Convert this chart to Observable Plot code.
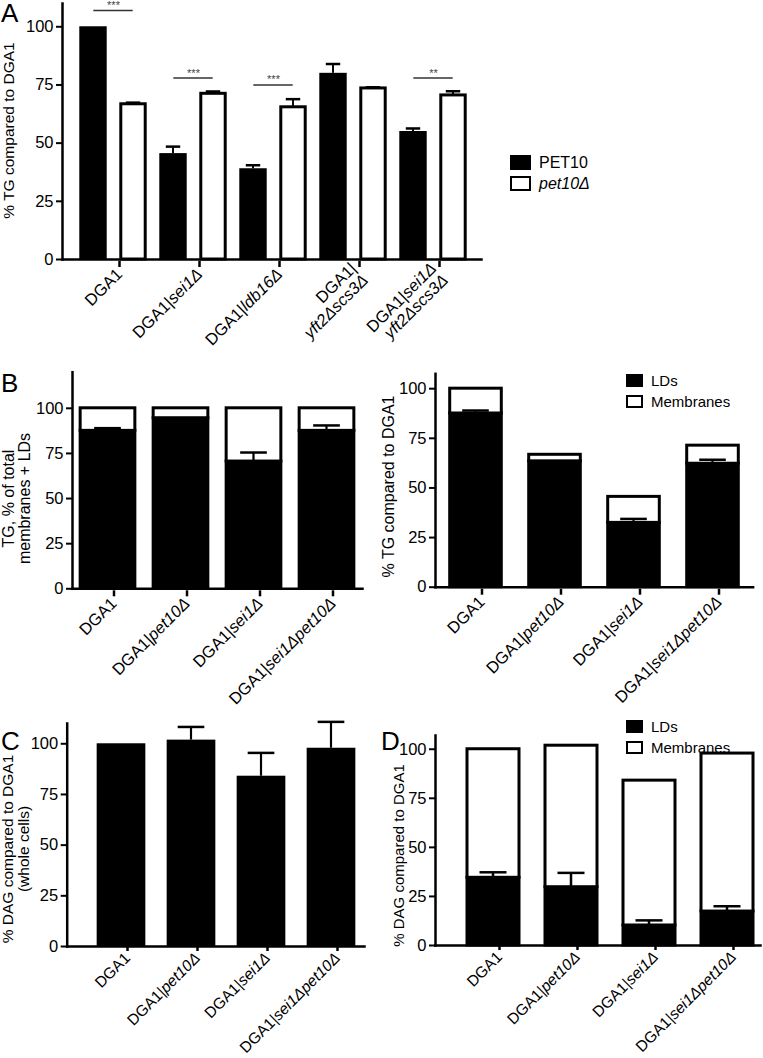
<!DOCTYPE html>
<html><head><meta charset="utf-8">
<script src="https://cdn.jsdelivr.net/npm/d3@7"></script>
<script src="https://cdn.jsdelivr.net/npm/@observablehq/plot@0.6"></script>
<style>
body{margin:0;background:#fff;font-family:"Liberation Sans",Arial,Helvetica,sans-serif;color:#000;}
#page{position:relative;width:763px;height:1058px;overflow:hidden;background:#fff;}
.panel{position:absolute;}
.panel svg{overflow:visible;}
.letter{position:absolute;font-size:26px;line-height:26px;}
.legend{position:absolute;font-size:15px;}
.legend .row{display:flex;align-items:center;height:21px;}
.sw{box-sizing:border-box;border:2.5px solid #000;margin-right:8px;}
</style></head><body><div id="page"></div>
<script>
// ---------- data ----------
const groupsA = ["DGA1", "DGA1|sei1Δ", "DGA1|ldb16Δ", "DGA1|\nyft2Δscs3Δ", "DGA1|sei1Δ\nyft2Δscs3Δ"];
const seriesA = ["PET10", "pet10Δ"];
const pet10Values = [100, 45.5, 39, 80, 55];
const pet10Errors = [0, 3, 1.5, 4, 1.3];
const pet10dValues = [66.7, 71.2, 65.4, 73.5, 70.5];
const pet10dErrors = [0.7, 1, 3.5, 0.5, 1.8];
const sigGroups = ["DGA1", "DGA1|sei1Δ", "DGA1|ldb16Δ", "DGA1|sei1Δ\nyft2Δscs3Δ"];
const sigLevels = [107, 78, 75, 78];
const sigStars = ["***", "***", "***", "**"];

const strainsB = ["DGA1", "DGA1|pet10Δ", "DGA1|sei1Δ", "DGA1|sei1Δpet10Δ"];
const parts = ["LDs", "Membranes"];
const ldShareTG = [87.5, 94.5, 70.5, 87.5];
const ldShareTGErr = [1.5, 0, 5, 3];
const membraneShareTG = [12.5, 5.5, 29.5, 12.5];
const ldTG = [87.5, 63.4, 32.4, 62.2];
const ldTGErr = [1.5, 0, 2, 2];
const membraneTG = [12.5, 3.3, 13.1, 9.1];
const totalDAG = [100, 101.8, 84, 97.8];
const totalDAGErr = [0, 6.5, 11.5, 13];
const ldDAG = [34.5, 29.7, 10.2, 17.3];
const ldDAGErr = [2.8, 7.3, 2.6, 2.7];
const membraneDAG = [65.5, 72.1, 73.8, 80.5];
const yTicks = [0, 25, 50, 75, 100];

// ---------- helpers ----------
const FONT = '"Liberation Sans", Arial, Helvetica, sans-serif';
const page = document.getElementById("page");
function place(node, left, top) {
  const d = document.createElement("div");
  d.className = "panel"; d.style.left = left + "px"; d.style.top = top + "px";
  d.appendChild(node); page.appendChild(d);
  italicize(node);
}
function letter(t, left, top) {
  const d = document.createElement("div");
  d.className = "letter"; d.textContent = t; d.style.left = left + "px"; d.style.top = top + "px";
  page.appendChild(d);
}
function legend(items, left, top, w, h, italicSecond, size = 15) {
  const d = document.createElement("div");
  d.className = "legend"; d.style.left = left + "px"; d.style.top = top + "px"; d.style.fontSize = size + "px";
  items.forEach((it, i) => {
    const r = document.createElement("div"); r.className = "row";
    const s = document.createElement("div"); s.className = "sw";
    s.style.width = w + "px"; s.style.height = h + "px";
    s.style.background = i === 0 ? "#000" : "#fff";
    const t = document.createElement("span"); t.textContent = it;
    if (i === 1 && italicSecond) t.style.fontStyle = "italic";
    r.appendChild(s); r.appendChild(t); d.appendChild(r);
  });
  page.appendChild(d);
}
const SVGNS = "http://www.w3.org/2000/svg";
function italicize(svg) {
  svg.querySelectorAll('[aria-label="x-axis tick label"] text').forEach(t => {
    const tspans = t.querySelectorAll("tspan");
    const els = tspans.length ? Array.from(tspans) : [t];
    els.forEach((el, li) => {
      const s = el.textContent;
      const k = s.indexOf("|");
      let normal = s, ital = "";
      if (k >= 0) { normal = s.slice(0, k + 1); ital = s.slice(k + 1); }
      else if (li > 0) { normal = ""; ital = s; }
      el.textContent = "";
      if (normal) el.appendChild(document.createTextNode(normal));
      if (ital) {
        const ts = document.createElementNS(SVGNS, "tspan");
        ts.setAttribute("font-style", "italic"); ts.textContent = ital;
        el.appendChild(ts);
      }
    });
  });
}
function yTitle(text, offset, dy, size = 16) {
  return Plot.text([text], {text: d => d, frameAnchor: "left", rotate: -90, dx: -offset, dy,
    lineAnchor: "top", textAnchor: "middle", fontSize: size});
}
const axisLines = () => [
  Plot.frame({anchor: "left", strokeWidth: 2.5}),
  Plot.frame({anchor: "bottom", strokeWidth: 2.5})
];
const yAxis = () => Plot.axisY({ticks: yTicks, tickSize: 6, tickPadding: 3, fontSize: 16.5, strokeWidth: 2, label: null});
const xAxis = (size = 16.5, dy = 2) => Plot.axisX({tickSize: 6, tickPadding: 4, tickRotate: -45, fontSize: size, strokeWidth: 2.5,
  dx: 6, dy, label: null});
const baseStyle = {fontFamily: FONT, fontSize: "16px", color: "#000", background: "transparent", overflow: "visible"};

// ---------- Panel A ----------
{
  const rows = groupsA.flatMap((g, i) => [
    {group: g, series: seriesA[0], value: pet10Values[i], err: pet10Errors[i]},
    {group: g, series: seriesA[1], value: pet10dValues[i], err: pet10dErrors[i]}
  ]);
  const sig = sigGroups.map((g, i) => ({group: g, level: sigLevels[i], stars: sigStars[i]}));
  const black = rows.filter(d => d.series === seriesA[0]);
  const white = rows.filter(d => d.series === seriesA[1]);
  const h = 80.58 / 2;
  const inL = (off, half) => h + off - half;
  const inR = (off, half) => h - off - half;
  const errMarks = (data, off) => [
    Plot.barY(data.filter(d => d.err > 0), {x: "group", y1: "value", y2: d => d.value + d.err, fill: "#000",
      insetLeft: inL(off, 1.25), insetRight: inR(off, 1.25)}),
    Plot.tickY(data.filter(d => d.err > 0), {x: "group", y: d => d.value + d.err, strokeWidth: 2.5,
      insetLeft: inL(off, 7.5), insetRight: inR(off, 7.5)})
  ];
  const chart = Plot.plot({
    width: 490, height: 360, marginLeft: 62, marginRight: 9, marginTop: 3, marginBottom: 101,
    x: {domain: groupsA, padding: 0, insetLeft: 9.4, insetRight: 6.7},
    y: {domain: [0, 110]},
    style: baseStyle,
    marks: [
      ...errMarks(black, -20), ...errMarks(white, 20),
      Plot.barY(black, {x: "group", y: "value", fill: "#000", insetLeft: inL(-20, 14), insetRight: inR(-20, 14)}),
      Plot.barY(white, {x: "group", y: "value", fill: "#fff", stroke: "#000", strokeWidth: 3,
        insetLeft: inL(20, 12.5), insetRight: inR(20, 12.5)}),
      Plot.tickY(sig, {x: "group", y: "level", stroke: "#333", strokeWidth: 1.5, insetLeft: h - 20, insetRight: h - 20}),
      Plot.text(sig, {x: "group", y: "level", text: "stars", dy: -5, fontSize: 11, fill: "#444"}),
      ...axisLines(), yAxis(), xAxis(),
      yTitle("% TG compared to DGA1", 60, -1, 15.5)
    ]
  });
  place(chart, 0, 0);
  letter("A", 1, 0);
  legend(seriesA, 510, 152, 21, 15, true, 16);
}

// ---------- stacked helper ----------
function stacked(ld, ldErr, mem, opts) {
  const rows = strainsB.flatMap((s, i) => [
    {strain: s, part: parts[0], value: ld[i]},
    {strain: s, part: parts[1], value: mem[i]}
  ]);
  const err = strainsB.map((s, i) => ({strain: s, v: ld[i], e: ldErr[i]})).filter(d => d.e > 0);
  const h = opts.step / 2;
  return Plot.plot({
    width: opts.width, height: opts.height, marginLeft: opts.ml, marginRight: opts.mr,
    marginTop: opts.mt, marginBottom: opts.height - opts.y0,
    x: {domain: strainsB, padding: 0, insetLeft: opts.il, insetRight: opts.ir},
    y: {domain: [0, opts.ymax]},
    color: {domain: parts, range: ["#000", "#fff"]},
    style: baseStyle,
    marks: [
      Plot.barY(rows, {x: "strain", y: "value", fill: "part", stroke: "#000", strokeWidth: 3,
        insetLeft: h - opts.bar / 2 + 1.5, insetRight: h - opts.bar / 2 + 1.5}),
      Plot.barY(err, {x: "strain", y1: "v", y2: d => d.v + d.e, fill: "#000", insetLeft: h - 1.25, insetRight: h - 1.25}),
      Plot.tickY(err, {x: "strain", y: d => d.v + d.e, strokeWidth: 2.5, insetLeft: h - opts.cap / 2, insetRight: h - opts.cap / 2}),
      ...axisLines(), yAxis(), xAxis(opts.labelSize, opts.labelDy),
      opts.title
    ]
  });
}

// ---------- Panel B left ----------
place(stacked(ldShareTG, ldShareTGErr, membraneShareTG, {
  width: 380, height: 350, ml: 72, mr: 18, mt: 11.7, y0: 228.3, ymax: 120, step: 73.3, bar: 58, cap: 27,
  il: -2.7, ir: -3.2,
  title: yTitle("TG, % of total\nmembranes + LDs", 70, 18)
}), 0, 360);
letter("B", 1, 370);

// ---------- Panel B right ----------
place(stacked(ldTG, ldTGErr, membraneTG, {
  width: 383, height: 350, ml: 55, mr: 10.4, mt: 13.3, y0: 226.7, ymax: 107.5, step: 79.4, bar: 55, cap: 27,
  il: 0.3, ir: 0,
  title: yTitle("% TG compared to DGA1", 53, 6)
}), 380, 360);
legend(parts, 626, 370, 17, 13, false);

// ---------- Panel C ----------
{
  const rows = strainsB.map((s, i) => ({strain: s, value: totalDAG[i], err: totalDAGErr[i]}));
  const step = 70.33, h = step / 2;
  const chart = Plot.plot({
    width: 380, height: 338, marginLeft: 66.7, marginRight: 16, marginTop: 3, marginBottom: 112,
    x: {domain: strainsB, padding: 0, insetLeft: 18.1, insetRight: -2.2},
    y: {domain: [0, 110]},
    style: baseStyle,
    marks: [
      Plot.barY(rows.filter(d => d.err > 0), {x: "strain", y1: "value", y2: d => d.value + d.err, fill: "#000", insetLeft: h - 1.25, insetRight: h - 1.25}),
      Plot.tickY(rows.filter(d => d.err > 0), {x: "strain", y: d => d.value + d.err, strokeWidth: 2.5, insetLeft: h - 13.5, insetRight: h - 13.5}),
      Plot.barY(rows, {x: "strain", y: "value", fill: "#000", insetLeft: h - 24.5, insetRight: h - 24.5}),
      ...axisLines(), yAxis(), xAxis(15.5, -1),
      yTitle("% DAG compared to DGA1\n(whole cells)", 65, 14, 15.5)
    ]
  });
  place(chart, 0, 720);
  letter("C", 1, 728);
}

// ---------- Panel D ----------
place(stacked(ldDAG, ldDAGErr, membraneDAG, {
  width: 383, height: 338, ml: 55, mr: 3, mt: 15, y0: 225, ymax: 107, step: 78, bar: 55, cap: 27,
  il: 19.3, ir: -6.3, labelSize: 15.5, labelDy: -1,
  title: yTitle("% DAG compared to DGA1", 42, 15, 15)
}), 380, 720);
letter("D", 381, 728);
legend(parts, 626, 716, 17, 13, false);
</script></body></html>
